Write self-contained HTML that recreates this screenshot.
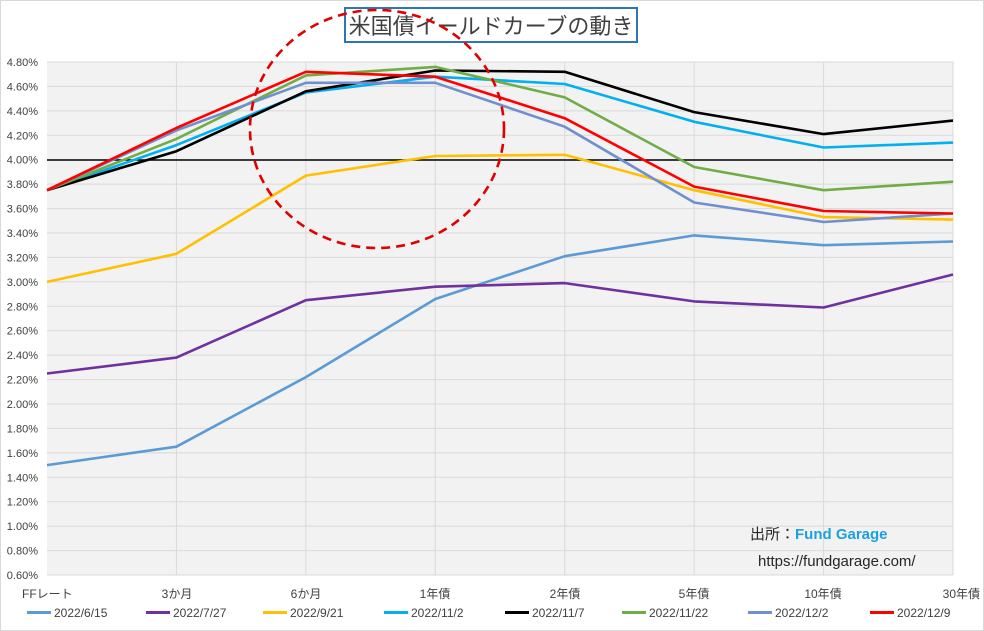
<!DOCTYPE html>
<html><head><meta charset="utf-8"><style>
body{margin:0;background:#fff}
svg{display:block;font-family:"Liberation Sans","Noto Sans CJK JP",sans-serif}
</style></head><body>
<svg id="s" width="984" height="631" viewBox="0 0 984 631" xmlns="http://www.w3.org/2000/svg">
<rect x="0.5" y="0.5" width="983" height="630" fill="#fff" stroke="#d9d9d9"/>
<rect x="47" y="62" width="906" height="513" fill="#f2f2f2"/>
<g id="grid" stroke="#d9d9d9" stroke-width="1"></g>
<g id="ylab" font-size="11" fill="#404040" text-anchor="end"></g>
<g id="xlab" font-size="12" fill="#404040" text-anchor="middle"></g>
<line x1="47" y1="160" x2="953" y2="160" stroke="#000" stroke-width="1.6"/>
<g id="series" fill="none" stroke-width="2.6" stroke-linejoin="round"></g>
<rect x="345" y="8" width="292" height="34" fill="#fff" stroke="#2e75b6" stroke-width="2"/>
<text x="491" y="34" font-size="22" fill="#404040" text-anchor="middle">米国債イールドカーブの動き</text>
<ellipse cx="377" cy="129" rx="127" ry="119" fill="none" stroke="#e00000" stroke-width="2.6" stroke-dasharray="9,6"/>
<text x="750" y="539" font-size="15" fill="#262626">出所：<tspan fill="#1ba1e2" font-weight="bold">Fund Garage</tspan></text>
<text x="758" y="566" font-size="15" fill="#262626">https://fundgarage.com/</text>
<g id="leg" font-size="12" fill="#404040"></g>
</svg>
<script>
var ns="http://www.w3.org/2000/svg";
function el(p,t,a,txt){var e=document.createElementNS(ns,t);for(var k in a)e.setAttribute(k,a[k]);if(txt)e.textContent=txt;document.getElementById(p).appendChild(e);}
function Y(v){return 575-(v-0.6)/0.2*24.4286;}
var X=[];for(var i=0;i<8;i++)X.push(47+i*129.43);
for(var v=0.6;v<4.81;v+=0.2){var y=Y(v);el("grid","line",{x1:47,x2:953,y1:y,y2:y});el("ylab","text",{x:38,y:y+4},v.toFixed(2)+"%");}
for(var i=1;i<8;i++)el("grid","line",{x1:X[i],x2:X[i],y1:62,y2:575});
var cats=["FFレート","3か月","6か月","1年債","2年債","5年債","10年債","30年債"];
var cx=[22,177,306,435,565,694,823,980];
for(var i=0;i<8;i++)el("xlab","text",{x:cx[i],y:598,"text-anchor":i==0?"start":(i==7?"end":"middle")},cats[i]);
var S=[
["2022/6/15","#5b9bd5",[1.50,1.65,2.22,2.86,3.21,3.38,3.30,3.33]],
["2022/7/27","#7030a0",[2.25,2.38,2.85,2.96,2.99,2.84,2.79,3.06]],
["2022/9/21","#ffc000",[3.00,3.23,3.87,4.03,4.04,3.75,3.53,3.51]],
["2022/11/2","#00b0f0",[3.75,4.12,4.55,4.68,4.62,4.31,4.10,4.14]],
["2022/11/7","#000000",[3.75,4.07,4.56,4.73,4.72,4.39,4.21,4.32]],
["2022/11/22","#70ad47",[3.75,4.17,4.69,4.76,4.51,3.94,3.75,3.82]],
["2022/12/2","#6f8fcf",[3.75,4.24,4.63,4.63,4.27,3.65,3.49,3.56]],
["2022/12/9","#ff0000",[3.75,4.26,4.72,4.68,4.34,3.78,3.58,3.56]]];
var lx=[27,146,263,384,505,622,748,870];
S.forEach(function(s,j){var p=s[2].map(function(v,i){return X[i].toFixed(1)+","+Y(v).toFixed(1)}).join(" ");
el("series","polyline",{points:p,stroke:s[1]});
el("leg","rect",{x:lx[j],y:611,width:24,height:3,fill:s[1]});
el("leg","text",{x:lx[j]+27,y:617},s[0]);});
</script>
</body></html>
